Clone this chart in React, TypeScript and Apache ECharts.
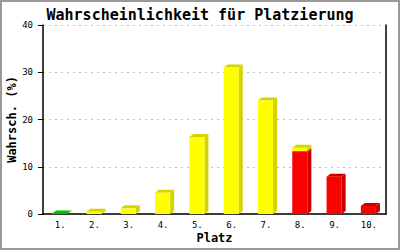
import React, { useEffect, useRef } from "react";
import * as echarts from "echarts";

const places = ["1.", "2.", "3.", "4.", "5.", "6.", "7.", "8.", "9.", "10."];
const greenPart = [0.1, 0, 0, 0, 0, 0, 0, 0, 0, 0];
const redPart = [0, 0, 0, 0, 0, 0, 0, 13.3, 7.9, 1.7];
const yellowPart = [0, 0.5, 1.2, 4.5, 16.3, 31.0, 24.0, 0.7, 0, 0];
const yTicks = [0, 10, 20, 30, 40];

const FONT = "DejaVu Sans Mono";

function buildSegments(parts: number[][]) {
  // stacked order: green, red, yellow
  const base = places.map(() => 0);
  return parts.map((arr) => {
    const out: number[][] = [];
    arr.forEach((v, i) => {
      if (v > 0) out.push([i, base[i], base[i] + v]);
      base[i] += v;
    });
    return out;
  });
}

function makeRender(front: string, side: string, top: string) {
  return (params: any, api: any) => {
    const i = api.value(0);
    const lo = api.value(1);
    const hi = api.value(2);
    const pLo = api.coord([i, lo]);
    const pHi = api.coord([i, hi]);
    const bw = api.size([1, 0])[0];
    const fw = bw * 0.44;
    const x0 = pLo[0] - fw * 0.53;
    const x1 = x0 + fw;
    const d = 4;
    const r = 3;
    const yb = pLo[1];
    const yt = pHi[1];
    return {
      type: "group",
      children: [
        {
          type: "polygon",
          shape: { points: [[x1, yb], [x1, yt], [x1 + d, yt - r], [x1 + d, yb - r]] },
          style: { fill: side },
        },
        {
          type: "polygon",
          shape: { points: [[x0, yt], [x0 + d, yt - r], [x1 + d, yt - r], [x1, yt]] },
          style: { fill: top },
        },
        {
          type: "rect",
          shape: { x: x0, y: yt, width: fw, height: yb - yt },
          style: { fill: front },
        },
      ],
    };
  };
}

export default function App() {
  const ref = useRef<HTMLDivElement>(null);
  useEffect(() => {
    document.body.style.margin = "0";
    const chart = echarts.init(ref.current!, null, { renderer: "svg" });
    const [gSeg, rSeg, ySeg] = buildSegments([greenPart, redPart, yellowPart]);
    chart.setOption({
      animation: false,
      backgroundColor: "#fff",
      title: {
        text: "Wahrscheinlichkeit für Platzierung",
        left: "center",
        top: 2,
        textStyle: { fontFamily: FONT, fontSize: 15, fontWeight: "bold", color: "#000" },
      },
      graphic: [
        {
          type: "rect",
          shape: { x: 1, y: 1, width: 398, height: 248 },
          style: { fill: "none", stroke: "#999", lineWidth: 2 },
          silent: true,
        },
      ],
      grid: { left: 43, right: 14, top: 25, bottom: 36, containLabel: false, outerBoundsMode: "none" },
      xAxis: {
        type: "category",
        data: places,
        name: "Platz",
        nameLocation: "middle",
        nameGap: 18,
        nameMoveOverlap: false,
        nameTextStyle: { fontFamily: FONT, fontSize: 12, fontWeight: "bold", color: "#000" },
        axisLine: { lineStyle: { color: "#000", width: 1.5 } },
        axisTick: { show: false },
        axisLabel: { fontFamily: FONT, fontSize: 9, color: "#000", margin: 6 },
      },
      yAxis: [
        {
          type: "value",
          min: yTicks[0],
          max: yTicks[yTicks.length - 1],
          interval: 10,
          name: "Wahrsch. (%)",
          nameLocation: "middle",
          nameGap: 25,
          nameMoveOverlap: false,
          nameTextStyle: { fontFamily: FONT, fontSize: 12, fontWeight: "bold", color: "#000" },
          axisLine: { show: true, lineStyle: { color: "#000", width: 1.5 } },
          axisTick: { show: true, length: 5, lineStyle: { color: "#000", width: 1 } },
          axisLabel: { fontFamily: FONT, fontSize: 9, color: "#000", margin: 10 },
          splitLine: { show: true, lineStyle: { color: "#c0c0c0", type: [2, 4], width: 1 } },
        },
        {
          type: "value",
          position: "right",
          min: 0,
          max: 40,
          interval: 10,
          axisLine: { show: true, lineStyle: { color: "#000", width: 1.5 } },
          axisTick: { show: false },
          axisLabel: { show: false },
          splitLine: { show: false },
        },
      ],
      series: [
        {
          type: "custom",
          renderItem: makeRender("#00e000", "#00a800", "#00c000"),
          encode: { x: 0, y: [1, 2] },
          data: gSeg,
        },
        {
          type: "custom",
          renderItem: makeRender("#ff0000", "#cc0000", "#cc0000"),
          encode: { x: 0, y: [1, 2] },
          data: rSeg,
        },
        {
          type: "custom",
          renderItem: makeRender("#ffff00", "#d4d400", "#d4d400"),
          encode: { x: 0, y: [1, 2] },
          data: ySeg,
        },
      ],
    });
    return () => chart.dispose();
  }, []);
  return <div ref={ref} style={{ width: 400, height: 250 }} />;
}
